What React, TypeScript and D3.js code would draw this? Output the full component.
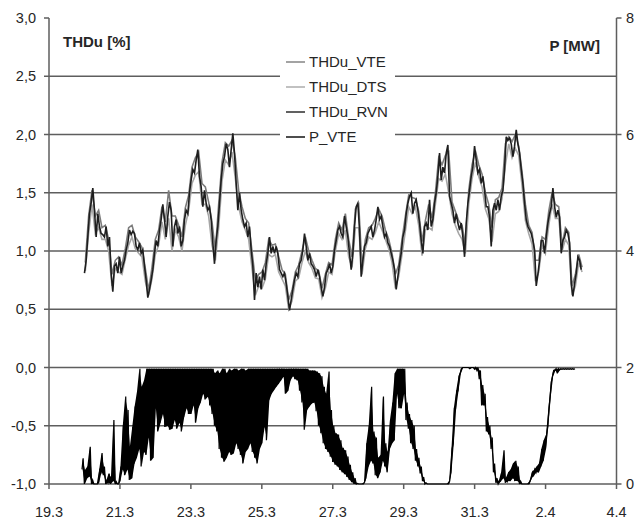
import React from 'react';
import * as d3 from 'd3';

// Axis labels
const dateLabels = ['19.3', '21.3', '23.3', '25.3', '27.3', '29.3', '31.3', '2.4', '4.4'];
const thduTicks = [3, 2.5, 2, 1.5, 1, 0.5, 0, -0.5, -1];
const pTicks = [0, 2, 4, 6, 8];

// THDu series: days after 19.3, fixed sampling step
const thduStart = 1.0;
const thduStep = 0.047;
const thduRVN = [
  0.81, 0.92, 1.12, 1.32, 1.41, 1.54, 1.35, 1.12, 1.32, 1.21,
  1.15, 1.14, 1.12, 1.21, 1.04, 1.12, 0.81, 0.65, 0.87, 0.89,
  0.81, 0.95, 0.81, 0.87, 0.92, 1.01, 1.07, 1.18, 1.14, 1.17,
  1.15, 1.04, 1.01, 1.07, 0.98, 1.01, 0.87, 0.75, 0.60, 0.67,
  0.75, 0.84, 0.98, 1.09, 1.04, 1.18, 1.27, 1.40, 1.27, 1.12,
  1.30, 1.42, 1.35, 1.04, 1.21, 1.27, 1.15, 1.21, 1.04, 1.09,
  1.27, 1.35, 1.32, 1.50, 1.61, 1.70, 1.67, 1.78, 1.87, 1.64,
  1.55, 1.38, 1.52, 1.41, 1.35, 1.38, 1.27, 1.07, 0.89, 1.09,
  1.21, 1.41, 1.61, 1.75, 1.81, 1.92, 1.87, 1.72, 1.87, 2.01,
  1.84, 1.58, 1.35, 1.50, 1.35, 1.27, 1.21, 1.24, 1.12, 1.21,
  1.01, 0.87, 0.58, 0.81, 0.69, 0.78, 0.67, 0.84, 0.75,
  0.89, 0.98, 1.12, 0.98, 1.04, 0.98, 1.04, 0.98, 0.84, 0.81,
  0.78, 0.81, 0.72, 0.61, 0.49, 0.58, 0.67, 0.75, 0.81, 0.78,
  0.89, 0.92, 1.01, 1.15, 1.04, 0.92, 0.98, 0.89, 0.87, 0.84,
  0.78, 0.84, 0.78, 0.69, 0.61, 0.69, 0.81, 0.84, 0.89, 0.81,
  0.87, 1.01, 1.09, 1.18, 1.21, 1.15, 1.12, 1.30, 1.21, 1.12,
  0.98, 0.84, 0.98, 1.21, 1.38, 1.41, 1.18, 0.78, 0.92, 1.04,
  1.07, 1.15, 1.18, 1.21, 1.12, 1.18, 1.27, 1.38, 1.27, 1.30,
  1.21, 1.12, 1.15, 1.07, 1.04, 0.98, 0.92, 0.84, 0.67, 0.78,
  0.89, 0.98, 1.12, 1.18, 1.32, 1.41, 1.47, 1.50, 1.32, 1.41,
  1.44, 1.35, 1.24, 1.09, 0.98, 1.21, 1.24, 1.18, 1.44, 1.21,
  1.27, 1.41, 1.50, 1.64, 1.84, 1.61, 1.72, 1.67,
  1.84, 1.91, 1.47, 1.41, 1.35, 1.24, 1.32, 1.24, 1.18, 1.24,
  1.12, 0.95, 1.24, 1.41, 1.52, 1.64, 1.72, 1.90, 1.78, 1.67,
  1.70, 1.58, 1.64, 1.52, 1.38, 1.38, 1.29, 1.04, 1.35, 1.41,
  1.35, 1.44, 1.35, 1.47, 1.52, 1.70, 1.98, 1.95, 1.97, 1.92,
  1.81, 1.90, 2.04, 1.92, 1.84, 1.70, 1.58, 1.41, 1.27, 1.21,
  1.18, 1.15, 1.09, 1.01, 0.70, 0.80, 0.92, 1.09, 1.09, 0.98,
  1.12, 1.24, 1.32, 1.38, 1.54, 1.38, 1.29, 1.35, 1.29, 0.98,
  1.09, 1.12, 1.18, 1.15, 1.07, 0.72, 0.61, 0.72, 0.81, 0.95,
  0.92, 0.84,
];

const thduGrayStart = 1.0235;
const thduGrayStep = 0.094;
const thduVTE = [
  0.90, 1.30, 1.52, 1.30, 1.35, 1.20, 1.22, 1.10, 0.80, 0.92,
  0.95, 0.88, 1.02, 1.20, 1.22, 1.12, 1.08, 1.03, 0.85, 0.66,
  0.86, 1.10, 1.18, 1.38, 1.25, 1.52, 1.30, 1.30, 1.22, 1.12,
  1.37, 1.48, 1.72, 1.80, 1.85, 1.58, 1.55, 1.42, 1.25, 1.00,
  1.40, 1.76, 1.93, 1.90, 1.95, 1.80, 1.52, 1.38, 1.28, 1.24,
  1.00, 0.75, 0.80, 0.82, 0.90,
  1.10, 1.05, 1.06, 0.95, 0.84, 0.80, 0.58, 0.66, 0.82, 0.88,
  1.00, 1.12, 1.00, 0.92, 0.85, 0.83, 0.68, 0.80, 0.90, 0.88,
  1.10, 1.24, 1.18, 1.32, 1.10, 0.95, 1.36, 1.40, 0.86, 1.10,
  1.20, 1.22, 1.28, 1.36, 1.30, 1.18, 1.10, 0.98, 0.80, 0.88,
  1.10, 1.30, 1.48, 1.46, 1.45, 1.34, 1.08, 1.26, 1.40, 1.28,
  1.50, 1.80, 1.74, 1.82,
  1.85, 1.42, 1.34, 1.26, 1.22, 1.05, 1.52, 1.74, 1.86, 1.74,
  1.66, 1.50, 1.40, 1.20, 1.44, 1.46, 1.54, 1.92, 1.98, 1.94,
  2.00, 1.90, 1.68, 1.40, 1.22, 1.16, 0.92, 0.92, 1.12, 1.10,
  1.34, 1.50, 1.40, 1.38, 1.05, 1.20, 1.16, 0.70, 0.80, 0.97,
  0.86,
];
const thduDTS = [
  0.83, 1.15, 1.40, 1.15, 1.20, 1.10, 1.10, 1.00, 0.70, 0.85,
  0.82, 0.80, 0.93, 1.05, 1.12, 1.02, 0.98, 0.95, 0.74, 0.62,
  0.76, 0.97, 1.05, 1.25, 1.10, 1.28, 1.00, 1.18, 1.12, 1.00,
  1.22, 1.35, 1.58, 1.65, 1.68, 1.40, 1.40, 1.30, 1.05, 0.92,
  1.20, 1.60, 1.78, 1.74, 1.85, 1.62, 1.38, 1.25, 1.18, 1.10,
  0.85, 0.62, 0.70, 0.68, 0.76,
  0.97, 0.95, 0.97, 0.82, 0.76, 0.70, 0.50, 0.57, 0.74, 0.77,
  0.90, 1.00, 0.90, 0.85, 0.77, 0.76, 0.60, 0.68, 0.82, 0.80,
  1.00, 1.15, 1.10, 1.18, 0.95, 0.86, 1.20, 1.20, 0.80, 1.02,
  1.12, 1.10, 1.16, 1.25, 1.18, 1.10, 1.02, 0.90, 0.68, 0.78,
  0.97, 1.17, 1.38, 1.32, 1.38, 1.22, 0.96, 1.18, 1.20, 1.18,
  1.40, 1.62, 1.60, 1.66,
  1.50, 1.32, 1.22, 1.15, 1.10, 0.98, 1.40, 1.62, 1.76, 1.64,
  1.55, 1.36, 1.28, 1.08, 1.32, 1.34, 1.45, 1.74, 1.92, 1.80,
  1.88, 1.82, 1.56, 1.26, 1.15, 1.06, 0.74, 0.82, 1.05, 0.98,
  1.22, 1.40, 1.28, 1.28, 1.00, 1.10, 1.05, 0.62, 0.70, 0.90,
  0.82,
];

// P_VTE [MW]: per-interval maximum and minimum
const pStart = 0.93;
const pStep = 1 / 15;
const pHigh = [
  0.44, 0.24, 0.30, 0.64, 0.07, 0.00, 0.00, 0.24, 0.53, 0.30,
  0.06, 0.18, 0.12, 1.10, 0.04, 0.00, 0.30, 1.00, 1.50, 1.27,
  0.64, 0.98, 1.33, 1.58, 1.98, 1.67, 1.78, 1.98, 1.98, 1.98,
  1.98, 1.98, 1.98, 1.98, 1.98, 1.98, 1.98, 1.98, 1.98, 1.98,
  1.98, 1.98, 1.98, 1.98, 1.98, 1.98, 1.98, 1.98, 1.98, 1.98,
  1.98, 1.98, 1.98, 1.98, 1.98, 1.98, 1.90, 1.95, 1.90, 1.98,
  1.98, 1.90, 1.98, 1.95, 1.98, 1.98, 1.95, 1.98, 1.98, 1.95,
  1.98, 1.98, 1.98, 1.98, 1.98, 1.98, 1.98, 1.98, 1.98, 1.98,
  1.98, 1.98, 1.98, 1.98, 1.98, 1.98, 1.98, 1.98, 1.98, 1.98,
  1.98, 1.98, 1.98, 1.98, 1.98, 1.98, 1.95, 1.95, 1.95, 1.93,
  1.90, 1.85, 1.67, 1.55, 1.93, 1.27, 1.00, 0.87, 0.85, 0.75,
  0.62, 0.58, 0.47, 0.33, 0.20, 0.10, 0.01, 0.00, 0.00, 0.03,
  0.70, 1.00, 1.67, 0.90, 0.80, 0.45, 0.50, 1.50, 0.70, 0.55,
  1.10, 1.40, 1.90, 1.98, 1.98, 1.98, 1.98, 1.40, 1.20, 1.10,
  1.00, 0.60, 0.45, 0.30, 0.12, 0.02, 0.00, 0.00, 0.00, 0.00,
  0.00, 0.00, 0.00, 0.00, 0.00, 0.05, 0.60, 1.30, 1.60, 1.85,
  1.98, 2.00, 2.00, 2.00, 2.00, 2.00, 2.00, 2.00, 1.95, 1.70,
  1.55, 1.15, 1.00, 0.80, 0.35, 0.10, 0.05, 0.20, 0.58, 0.10,
  0.20, 0.25, 0.35, 0.40, 0.30, 0.05, 0.00, 0.00, 0.00, 0.05,
  0.20, 0.25, 0.30, 0.35, 0.60, 0.75, 0.85, 1.30, 1.75, 1.95,
  1.98, 1.98, 1.98, 1.98, 1.98, 1.98, 1.98, 1.98, 1.98,
];
const pLow = [
  0.25, 0.00, 0.10, 0.13, 0.00, 0.00, 0.00, 0.02, 0.20, 0.15,
  0.00, 0.02, 0.00, 0.05, 0.00, 0.00, 0.05, 0.25, 0.15, 0.25,
  0.07, 0.10, 0.35, 0.45, 0.60, 0.30, 0.55, 0.50, 0.80, 0.40,
  0.45, 1.30, 0.90, 1.05, 1.20, 0.98, 1.00, 0.93, 0.95, 1.10,
  0.95, 1.05, 0.90, 1.15, 1.30, 1.20, 1.20, 1.35, 1.05, 1.30,
  1.40, 1.55, 1.45, 1.50, 1.35, 1.20, 1.00, 0.90, 0.60, 0.45,
  0.38, 0.45, 0.55, 0.50, 0.53, 0.70, 0.60, 0.50, 0.35, 0.55,
  0.60, 0.70, 0.55, 0.45, 0.35, 0.60, 0.70, 0.98, 0.75, 1.44,
  1.55, 1.61, 1.67, 1.72, 1.78, 1.84, 1.55, 1.60, 1.78, 1.85,
  1.80, 1.78, 1.60, 1.40, 0.93, 1.27, 1.33, 1.38, 1.40, 1.25,
  1.00, 0.87, 0.70, 0.60, 0.55, 0.47, 0.38, 0.33, 0.30, 0.24,
  0.20, 0.17, 0.12, 0.07, 0.03, 0.00, 0.00, 0.00, 0.00, 0.00,
  0.10, 0.30, 0.40, 0.35, 0.15, 0.10, 0.20, 0.40, 0.30, 0.20,
  0.60, 0.70, 0.75, 1.55, 1.30, 1.30, 1.55, 1.10, 0.95, 0.70,
  0.60, 0.40, 0.30, 0.18, 0.05, 0.00, 0.00, 0.00, 0.00, 0.00,
  0.00, 0.00, 0.00, 0.00, 0.00, 0.00, 0.20, 0.70, 1.30, 1.60,
  1.90, 2.00, 2.00, 2.00, 1.98, 2.00, 1.97, 1.95, 1.80, 1.35,
  1.35, 0.90, 0.85, 0.60, 0.20, 0.02, 0.00, 0.05, 0.10, 0.02,
  0.05, 0.05, 0.10, 0.05, 0.05, 0.00, 0.00, 0.00, 0.00, 0.00,
  0.10, 0.15, 0.20, 0.20, 0.30, 0.40, 0.60, 1.00, 1.50, 1.85,
  1.95, 1.90, 1.96, 1.97, 1.97, 1.97, 1.97, 1.97, 1.97,
];

const legendItems = [
  { name: 'THDu_VTE', color: '#7c7c7c' },
  { name: 'THDu_DTS', color: '#a6a6a6' },
  { name: 'THDu_RVN', color: '#1e1e1e' },
  { name: 'P_VTE', color: '#000000' },
];

const W = 636;
const H = 520;
const FONT = "'Liberation Sans', Arial, Helvetica, sans-serif";
const GRID = '#5e5e5e';
const TEXT = '#262626';

const fmtThdu = (v: number) => (v < 0 ? '-' : '') + Math.abs(v).toFixed(1).replace('.', ',');

export default function App() {
  const left = 49;
  const right = 616.5;
  const top = 18;
  const bottom = 484;

  const x = d3.scaleLinear().domain([0, 16]).range([left, right]);
  const y = d3.scaleLinear().domain([-1, 3]).range([bottom, top]);
  const yP = d3.scaleLinear().domain([0, 8]).range([bottom, top]);

  const lineThdu = d3
    .line<[number, number]>()
    .x((d) => x(d[0]))
    .y((d) => y(d[1]));
  const lineP = d3
    .line<[number, number]>()
    .x((d) => x(d[0]))
    .y((d) => yP(d[1]));
  const bandP = d3
    .area<number>()
    .x((_, i) => x(pStart + (i + 0.25) * pStep))
    .y0((_, i) => yP(pLow[i]))
    .y1((d) => yP(d));

  const series = (vals: number[], t0: number, step: number) =>
    vals.map((v, i) => [t0 + i * step, v] as [number, number]);

  const rvnPath = lineThdu(series(thduRVN, thduStart, thduStep)) || '';
  const vtePath = lineThdu(series(thduVTE, thduGrayStart, thduGrayStep)) || '';
  const dtsPath = lineThdu(series(thduDTS, thduGrayStart, thduGrayStep)) || '';

  // zig-zag through each interval's min and max
  const pPts: [number, number][] = [];
  pHigh.forEach((hi, i) => {
    pPts.push([pStart + i * pStep, pLow[i]]);
    pPts.push([pStart + (i + 0.5) * pStep, hi]);
  });
  const pPath = lineP(pPts) || '';
  const pBand = bandP(pHigh) || '';

  const xTickVals = d3.range(0, 17, 2);

  return (
    <svg
      width={W}
      height={H}
      viewBox={`0 0 ${W} ${H}`}
      style={{ position: 'absolute', left: 0, top: 0, background: '#fff' }}
      fontFamily={FONT}
    >
      <rect x={0} y={0} width={W} height={H} fill="#fff" />

      {/* horizontal gridlines */}
      {thduTicks
        .filter((t) => t < 3)
        .map((t) => (
          <line key={'g' + t} x1={left} x2={right} y1={y(t)} y2={y(t)} stroke={GRID} strokeWidth={1.5} />
        ))}

      {/* axes */}
      <line x1={left} x2={left} y1={top} y2={bottom} stroke={GRID} strokeWidth={1.5} />
      <line x1={right} x2={right} y1={top} y2={bottom} stroke={GRID} strokeWidth={1.5} />

      {/* left ticks & labels */}
      {thduTicks.map((t) => (
        <g key={'l' + t}>
          <line x1={left - 5} x2={left} y1={y(t)} y2={y(t)} stroke={GRID} strokeWidth={1.5} />
          <text x={36} y={y(t)} dy="0.36em" textAnchor="end" fontSize={14.5} fill={TEXT}>
            {fmtThdu(t)}
          </text>
        </g>
      ))}

      {/* right ticks & labels */}
      {pTicks.map((t) => (
        <g key={'r' + t}>
          <line x1={right} x2={right + 5} y1={yP(t)} y2={yP(t)} stroke={GRID} strokeWidth={1.5} />
          <text x={626} y={yP(t)} dy="0.36em" textAnchor="start" fontSize={14.5} fill={TEXT}>
            {t}
          </text>
        </g>
      ))}

      {/* bottom ticks & labels */}
      {xTickVals.map((t, i) => (
        <g key={'b' + t}>
          <line x1={x(t)} x2={x(t)} y1={bottom} y2={bottom + 5} stroke={GRID} strokeWidth={1.5} />
          <text x={x(t)} y={517} textAnchor="middle" fontSize={14.5} fill={TEXT}>
            {dateLabels[i]}
          </text>
        </g>
      ))}

      {/* data */}
      <path d={pBand} fill={legendItems[3].color} stroke="none" />
      <path d={pPath} fill="none" stroke={legendItems[3].color} strokeWidth={1.2} />
      <path d={vtePath} fill="none" stroke={legendItems[0].color} strokeWidth={1.6} />
      <path d={dtsPath} fill="none" stroke={legendItems[1].color} strokeWidth={1.6} />
      <path d={rvnPath} fill="none" stroke={legendItems[2].color} strokeWidth={1.6} />

      {/* axis titles */}
      <text x={63} y={47} fontSize={15} fontWeight="bold" fill={TEXT}>
        THDu [%]
      </text>
      <text x={600} y={51} fontSize={15} fontWeight="bold" fill={TEXT} textAnchor="end">
        P [MW]
      </text>

      {/* legend */}
      <rect x={280} y={49} width={115} height={100} fill="#fff" />
      {legendItems.map((it, i) => {
        const cy = 62 + i * 25;
        return (
          <g key={it.name}>
            <line x1={286} x2={305} y1={cy} y2={cy} stroke={it.color} strokeWidth={1.4} />
            <text x={309} y={cy} dy="0.36em" fontSize={15} fill={TEXT}>
              {it.name}
            </text>
          </g>
        );
      })}
    </svg>
  );
}
